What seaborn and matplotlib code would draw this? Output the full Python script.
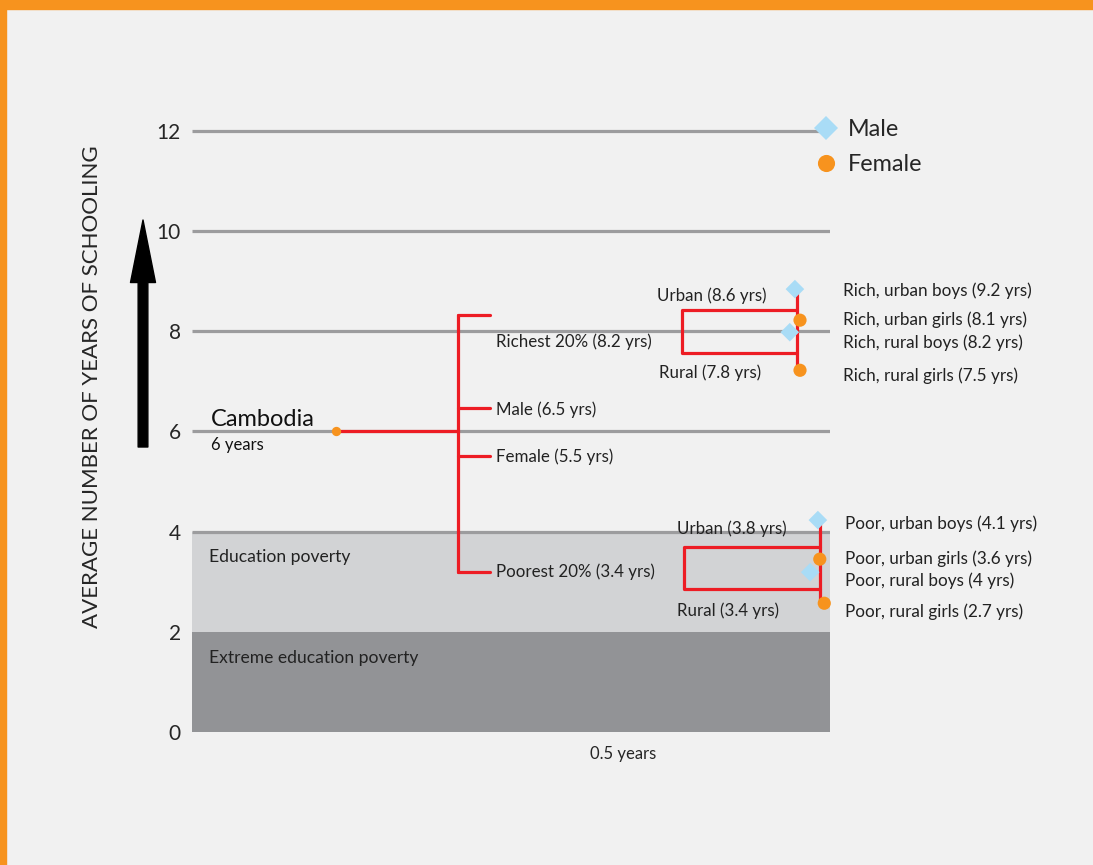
import numpy as np
import pandas as pd
import matplotlib
matplotlib.use("Agg")
import matplotlib.pyplot as plt
from matplotlib.patches import Rectangle
import seaborn as sns

sns.set_style("white")
plt.rcParams['font.family'] = ['Lato', 'DejaVu Sans']

# data (years of schooling)
national_years = 6
branch_names = ['Richest 20% (8.2 yrs)', 'Male (6.5 yrs)', 'Female (5.5 yrs)', 'Poorest 20% (3.4 yrs)']
branch_years = [8.32, 6.47, 5.51, 3.19]
branch_label_years = [7.80, 6.43, 5.49, 3.19]

groups = ['Rich, urban boys (9.2 yrs)', 'Rich, urban girls (8.1 yrs)',
          'Rich, rural boys (8.2 yrs)', 'Rich, rural girls (7.5 yrs)',
          'Poor, urban boys (4.1 yrs)', 'Poor, urban girls (3.6 yrs)',
          'Poor, rural boys (4 yrs)', 'Poor, rural girls (2.7 yrs)']
sex = ['Male', 'Female', 'Male', 'Female', 'Male', 'Female', 'Male', 'Female']
group_years = [8.84, 8.22, 7.98, 7.22, 4.23, 3.45, 3.19, 2.57]
group_label_years = [8.80, 8.22, 7.78, 7.11, 4.15, 3.45, 3.01, 2.40]

# urban / rural brackets: (top, bottom) of the bracket, stem top/bottom
rich_bracket = [8.42, 7.56]
rich_stem = [8.86, 7.22]
poor_bracket = [3.69, 2.85]
poor_stem = [4.23, 2.59]
bracket_labels = ['Urban (8.6 yrs)', 'Rural (7.8 yrs)', 'Urban (3.8 yrs)', 'Rural (3.4 yrs)']
bracket_label_years = [8.70, 7.17, 4.05, 2.42]

gridlines = [4, 6, 8, 10, 12]
yticks = [0, 2, 4, 6, 8, 10, 12]

# horizontal layout (axes fraction)
x_nat = 0.226
x_trunk = 0.417
x_branch = 0.467
group_x = [0.945, 0.953, 0.937, 0.953, 0.981, 0.984, 0.969, 0.991]
label_x = [1.020] * 4 + [1.023] * 4
bracket_label_x = [0.815, 0.812, 0.846, 0.840]

RED = '#ed1c24'
ORANGE = '#f7931e'
BLUE = '#a9dcf6'
BG = '#f1f1f1'
GRID = '#9c9c9e'
TXT = '#222222'

fig = plt.figure(figsize=(10.93, 8.65), dpi=100, facecolor=BG)
ax = fig.add_axes([192 / 1093, 1 - 732 / 865, 638 / 1093, 651.3 / 865])
ax.set_facecolor(BG)
ax.set_xlim(0, 1)
ax.set_ylim(0, 13)
for s in ax.spines.values():
    s.set_visible(False)

# poverty bands
ax.axhspan(0, 2, color='#929396', lw=0, zorder=0)
ax.axhspan(2, 4, color='#d2d3d5', lw=0, zorder=0)
ax.hlines(gridlines, 0, 1, color=GRID, lw=2.3, zorder=1)
ax.text(0.027, 3.49, 'Education poverty', fontsize=12.6, va='center', color=TXT)
ax.text(0.027, 1.48, 'Extreme education poverty', fontsize=12.6, va='center', color=TXT)

# red tree connectors
segs = []
def seg(name, xs, ys):
    for x, y in zip(xs, ys):
        segs.append({'seg': name, 'x': x, 'y': y})

seg('nat', [x_nat, x_trunk], [national_years, national_years])
seg('trunk', [x_trunk, x_trunk], [branch_years[0], branch_years[-1]])
for i, b in enumerate(branch_years):
    seg('b%d' % i, [x_trunk, x_branch], [b, b])
seg('rich', [0.948, 0.768, 0.768, 0.948], [rich_bracket[0], rich_bracket[0], rich_bracket[1], rich_bracket[1]])
seg('richstem', [0.948, 0.948], rich_stem)
seg('poor', [0.984, 0.771, 0.771, 0.984], [poor_bracket[0], poor_bracket[0], poor_bracket[1], poor_bracket[1]])
seg('poorstem', [0.984, 0.984], poor_stem)
lines = pd.DataFrame(segs)
sns.lineplot(data=lines, x='x', y='y', units='seg', estimator=None, sort=False,
             color=RED, lw=2.3, ax=ax, zorder=2)

# national point
ax.scatter([x_nat], [national_years], s=45, color=ORANGE, zorder=4, lw=0)
ax.text(0.030, 6.23, 'Cambodia', fontsize=17, va='center', color='#111111')
ax.text(0.030, 5.73, '6 years', fontsize=12, va='center', color='#111111')

for name, y in zip(branch_names, branch_label_years):
    ax.text(0.476, y, name, fontsize=12.2, va='center', color=TXT)
for name, x, y in zip(bracket_labels, bracket_label_x, bracket_label_years):
    ax.text(x, y, name, fontsize=12.2, va='center', ha='center', color=TXT)

# subgroup markers
pts = pd.DataFrame({'x': group_x, 'years': group_years, 'sex': sex})
sns.scatterplot(data=pts, x='x', y='years', hue='sex', style='sex',
                hue_order=['Male', 'Female'], style_order=['Male', 'Female'],
                palette={'Male': BLUE, 'Female': ORANGE},
                markers={'Male': 'D', 'Female': 'o'}, s=90, lw=0,
                ax=ax, zorder=5, clip_on=False)
for name, x, y in zip(groups, label_x, group_label_years):
    ax.text(x, y, name, fontsize=12.3, va='center', color=TXT, clip_on=False)

sns.move_legend(ax, 'upper left', bbox_to_anchor=(0.9754, 0.941), frameon=False,
                title=None, fontsize=16.8, borderaxespad=0, borderpad=0,
                handlelength=1.0, handletextpad=0.44, labelspacing=0.6, markerscale=1.3)

ax.set_yticks(yticks)
ax.set_yticklabels([str(t) for t in yticks], fontsize=15)
ax.tick_params(axis='y', length=0, pad=8)
ax.set_xticks([])
ax.set_xlabel('0.5 years', fontsize=12)
ax.xaxis.set_label_coords(0.676, -0.034)
ax.xaxis.label.set_va('center')
ax.set_ylabel('AVERAGE NUMBER OF YEARS OF SCHOOLING', fontsize=16)
ax.yaxis.set_label_coords(-0.1567, 0.530)
ax.yaxis.label.set_va('center')

# big black arrow
ax.annotate('', xy=(143, 865 - 220), xytext=(143, 865 - 447), xycoords='figure pixels',
            textcoords='figure pixels',
            arrowprops=dict(facecolor='black', edgecolor='black', width=7, headwidth=18,
                            headlength=45, shrink=0))

# orange frame
fig.patches.append(Rectangle((0, 1 - 9 / 865), 1, 9 / 865, transform=fig.transFigure,
                             color=ORANGE, zorder=10))
fig.patches.append(Rectangle((0, 0), 6 / 1093, 1, transform=fig.transFigure,
                             color=ORANGE, zorder=10))

fig.savefig('out.png', dpi=100, facecolor=BG)
